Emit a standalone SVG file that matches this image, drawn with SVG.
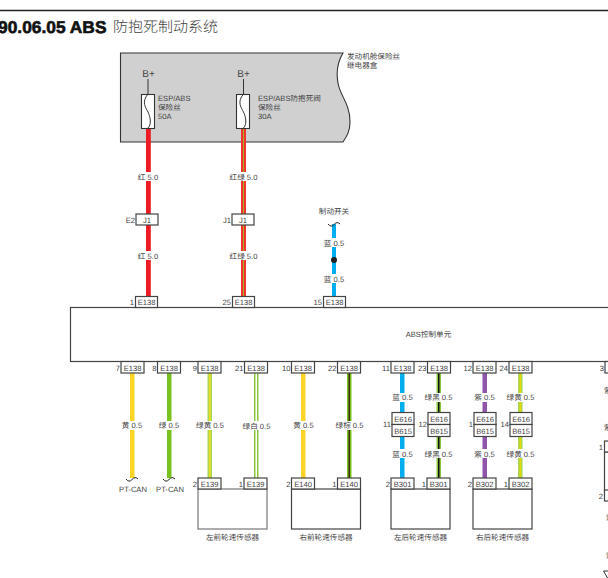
<svg xmlns="http://www.w3.org/2000/svg" width="608" height="578" viewBox="0 0 608 578">
<defs><style>
text{font-family:"Liberation Sans","Noto Sans CJK SC",sans-serif;font-size:7.6px;fill:#444;text-rendering:geometricPrecision}
.m{text-anchor:middle}.e{text-anchor:end}
.c{fill:#fff;stroke:#444;stroke-width:1.2}
.bx{fill:#fff;stroke:#444;stroke-width:1.2}
.l{fill:#fff}
.w{fill:none;stroke:#333;stroke-width:1}
.tilde{fill:none;stroke:#222;stroke-width:1}
</style></defs>
<rect width="608" height="578" fill="#fff"/>
<g id="header">
<line x1="0" y1="10.500" x2="608" y2="10.500" stroke="#222" stroke-width="1.300"/>
<text x="-2" y="32.500" textLength="108.500" lengthAdjust="spacingAndGlyphs" style="font-size:17px;font-weight:bold;fill:#111;stroke:#111;stroke-width:.6">90.06.05 ABS</text>
<text x="113" y="32" style="font-size:15px;font-family:'Noto Sans CJK SC',sans-serif;font-weight:300">防抱死制动系统</text>
</g>
<g id="fusebox">
<path d="M120.500 53H343C337 63 336.500 75 338 83C340 96 350 103 350 122C350 131 347 136 343 142H120.500Z" fill="#d0d0d0" stroke="#333" stroke-width="1.100"/>
<text x="347" y="59">发动机舱保险丝</text>
<text x="347" y="68">继电器盒</text>
</g>
<g id="connectors">
<rect x="146" y="129" width="4.800" height="167" fill="#ed1c24"/>
<rect x="241" y="129" width="5" height="167" fill="#f0342a"/><rect x="243" y="129" width="1" height="167" fill="#a8b030"/>
<rect x="332" y="224" width="4" height="72" fill="#00aeef"/>
<rect x="130" y="373" width="4.500" height="105" fill="#fdd528"/>
<rect x="167" y="373" width="4.500" height="105" fill="#7ac31f"/>
<rect x="207.500" y="373" width="4.500" height="105" fill="#a4d65a"/><rect x="209" y="373" width="1.700" height="105" fill="#ecdc20"/>
<rect x="254" y="373" width="4.500" height="105" fill="#8cc63f"/><rect x="255.500" y="373" width="1.500" height="105" fill="#fff"/>
<rect x="301" y="373" width="4.500" height="105" fill="#fdd528"/>
<rect x="347" y="373" width="4.500" height="105" fill="#7ac31f"/><rect x="348.500" y="373" width="1.500" height="105" fill="#3a2a10"/>
<rect x="400" y="373" width="4.500" height="105" fill="#00aeef"/>
<rect x="436.500" y="373" width="4.500" height="105" fill="#8cc63f"/><rect x="438" y="373" width="1.500" height="105" fill="#111"/>
<rect x="482.500" y="373" width="4.500" height="105" fill="#8e55ab"/>
<rect x="518" y="373" width="4.500" height="105" fill="#a4d65a"/><rect x="519.500" y="373" width="1.700" height="105" fill="#e4d800"/>
<path class="tilde" d="M126 479Q129 483 132 479.500T138 479"/>
<path class="tilde" d="M163 479Q166 483 169 479.500T175 479"/>
<path class="tilde" d="M328 224Q331 228 334 224.500T340 224"/>
<circle cx="334" cy="260" r="3" fill="#222"/>
</g>
<g id="labels">
<g fill="#fff">
<rect x="137" y="172" width="22" height="9" class="l"/><rect x="137" y="251" width="22" height="9" class="l"/>
<rect x="230" y="172" width="28" height="9" class="l"/><rect x="230" y="251" width="28" height="9" class="l"/>
<rect x="324" y="238" width="20" height="9" class="l"/><rect x="324" y="274" width="20" height="9" class="l"/>
<rect x="122" y="421" width="22" height="9" class="l"/><rect x="159" y="421" width="22" height="9" class="l"/><rect x="196" y="421" width="28" height="9" class="l"/><rect x="243" y="421" width="28" height="9" class="l"/><rect x="293" y="421" width="22" height="9" class="l"/><rect x="336" y="421" width="28" height="9" class="l"/>
<rect x="392" y="393" width="22" height="9" class="l"/><rect x="425" y="393" width="28" height="9" class="l"/><rect x="474" y="393" width="22" height="9" class="l"/><rect x="507" y="393" width="28" height="9" class="l"/>
<rect x="392" y="449" width="22" height="9" class="l"/><rect x="425" y="449" width="28" height="9" class="l"/><rect x="474" y="449" width="22" height="9" class="l"/><rect x="507" y="449" width="28" height="9" class="l"/>
</g>
<text class="m" x="148" y="180">红 5.0</text><text class="m" x="148" y="259">红 5.0</text>
<text class="m" x="243.500" y="180">红绿 5.0</text><text class="m" x="243.500" y="259">红绿 5.0</text>
<text class="m" x="334" y="246">蓝 0.5</text><text class="m" x="334" y="281.500">蓝 0.5</text>
<text class="m" x="334" y="214">制动开关</text>
<text class="m" x="132" y="428">黄 0.5</text><text class="m" x="169" y="428">绿 0.5</text><text class="m" x="210" y="428">绿黄 0.5</text><text class="m" x="256.500" y="429">绿白 0.5</text><text class="m" x="303.500" y="428">黄 0.5</text><text class="m" x="349.500" y="428">绿棕 0.5</text>
<text class="m" x="402.500" y="400">蓝 0.5</text><text class="m" x="438.500" y="400">绿黑 0.5</text><text class="m" x="484.500" y="400">紫 0.5</text><text class="m" x="520.500" y="400">绿黄 0.5</text>
<text class="m" x="402.500" y="456.500">蓝 0.5</text><text class="m" x="438.500" y="456.500">绿黑 0.5</text><text class="m" x="484.500" y="456.500">紫 0.5</text><text class="m" x="520.500" y="456.500">绿黄 0.5</text>
<text class="m" x="133" y="492">PT-CAN</text><text class="m" x="170" y="492">PT-CAN</text>
<text x="604" y="393">紫</text><text x="604" y="430">紫</text><text x="606" y="520">紫</text><text x="606" y="558">紫</text>
</g>
<g id="fuse-esp-abs-50a">
<rect x="141.500" y="94.500" width="13" height="34" fill="#fff" stroke="#333" stroke-width="1.100"/>
<path class="w" d="M148 79V94M148 94C141 102 146 108 148 112S152 124 148 128"/>
<text x="158" y="100.500">ESP/ABS</text><text x="158" y="110">保险丝</text><text x="158" y="119">50A</text>
<text class="m" x="148.500" y="76.500" style="font-size:10px">B+</text>
</g>
<g id="fuse-esp-abs-30a">
<rect x="236.500" y="94.500" width="13" height="34" fill="#fff" stroke="#333" stroke-width="1.100"/>
<path class="w" d="M243.500 79V94M243.500 94C236.500 102 241.500 108 243.500 112S247.500 124 243.500 128"/>
<text x="258" y="100.500">ESP/ABS防抱死阀</text><text x="258" y="110">保险丝</text><text x="258" y="119">30A</text>
<text class="m" x="243.500" y="76.500" style="font-size:10px">B+</text>
</g>
<g id="j1-e2"><rect class="c" x="136" y="214" width="22" height="11"/><text class="m" x="147" y="222.500">J1</text><text class="e" x="135" y="222.500">E2</text></g>
<g id="j1-j1"><rect class="c" x="232" y="214" width="22" height="11"/><text class="m" x="243" y="222.500">J1</text><text class="e" x="231" y="222.500">J1</text></g>
<g id="abs-unit"><rect class="bx" x="70.500" y="307.500" width="560" height="54"/><text class="m" x="428.500" y="337">ABS控制单元</text></g>
<g id="e138-top">
<rect class="c" x="135.500" y="296.500" width="22" height="11"/><text class="m" x="146.500" y="305">E138</text><text class="e" x="134" y="305">1</text>
<rect class="c" x="232.500" y="296.500" width="22" height="11"/><text class="m" x="243.500" y="305">E138</text><text class="e" x="231" y="305">25</text>
<rect class="c" x="323.500" y="296.500" width="22" height="11"/><text class="m" x="334.500" y="305">E138</text><text class="e" x="322" y="305">15</text>
</g>
<g id="e138-bottom">
<rect class="c" x="121" y="361.500" width="23" height="11.500"/><text class="m" x="132.500" y="370.500">E138</text><text class="e" x="120" y="370.500">7</text>
<rect class="c" x="157.500" y="361.500" width="23" height="11.500"/><text class="m" x="169" y="370.500">E138</text><text class="e" x="156.500" y="370.500">8</text>
<rect class="c" x="198" y="361.500" width="23" height="11.500"/><text class="m" x="209.500" y="370.500">E138</text><text class="e" x="197" y="370.500">9</text>
<rect class="c" x="244.500" y="361.500" width="23" height="11.500"/><text class="m" x="256" y="370.500">E138</text><text class="e" x="243.500" y="370.500">21</text>
<rect class="c" x="291.500" y="361.500" width="23" height="11.500"/><text class="m" x="303" y="370.500">E138</text><text class="e" x="290.500" y="370.500">10</text>
<rect class="c" x="337.500" y="361.500" width="23" height="11.500"/><text class="m" x="349" y="370.500">E138</text><text class="e" x="336.500" y="370.500">22</text>
<rect class="c" x="391" y="361.500" width="23" height="11.500"/><text class="m" x="402.500" y="370.500">E138</text><text class="e" x="390" y="370.500">11</text>
<rect class="c" x="427.500" y="361.500" width="23" height="11.500"/><text class="m" x="439" y="370.500">E138</text><text class="e" x="426.500" y="370.500">23</text>
<rect class="c" x="473" y="361.500" width="23" height="11.500"/><text class="m" x="484.500" y="370.500">E138</text><text class="e" x="472" y="370.500">12</text>
<rect class="c" x="509" y="361.500" width="23" height="11.500"/><text class="m" x="520.500" y="370.500">E138</text><text class="e" x="508" y="370.500">24</text>
<rect class="c" x="605" y="361.500" width="23" height="11.500"/><text class="e" x="604" y="370.500">3</text>
</g>
<g id="e616-b615">
<rect class="c" x="392" y="412.500" width="22" height="12"/><rect class="c" x="392" y="424.500" width="22" height="12"/><text class="m" x="403" y="421.500">E616</text><text class="m" x="403" y="433.500">B615</text><text class="e" x="391" y="427">11</text>
<rect class="c" x="428" y="412.500" width="22" height="12"/><rect class="c" x="428" y="424.500" width="22" height="12"/><text class="m" x="439" y="421.500">E616</text><text class="m" x="439" y="433.500">B615</text><text class="e" x="427" y="427">12</text>
<rect class="c" x="474" y="412.500" width="22" height="12"/><rect class="c" x="474" y="424.500" width="22" height="12"/><text class="m" x="485" y="421.500">E616</text><text class="m" x="485" y="433.500">B615</text><text class="e" x="473" y="427">1</text>
<rect class="c" x="510" y="412.500" width="22" height="12"/><rect class="c" x="510" y="424.500" width="22" height="12"/><text class="m" x="521" y="421.500">E616</text><text class="m" x="521" y="433.500">B615</text><text class="e" x="509" y="427">14</text>
</g>
<g id="sensor-front-left"><rect class="bx" x="198" y="489" width="69" height="40" style="stroke:#777"/><rect class="c" x="198" y="478" width="23" height="11"/><rect class="c" x="244" y="478" width="23" height="11"/><text class="m" x="209.500" y="487">E139</text><text class="m" x="255.500" y="487">E139</text><text class="e" x="197" y="487">2</text><text class="e" x="243" y="487">1</text><text class="m" x="232.500" y="539.500">左前轮速传感器</text></g>
<g id="sensor-front-right"><rect class="bx" x="291.500" y="489" width="69" height="40"/><rect class="c" x="291.500" y="478" width="23" height="11"/><rect class="c" x="337.500" y="478" width="23" height="11"/><text class="m" x="303" y="487">E140</text><text class="m" x="349" y="487">E140</text><text class="e" x="290.500" y="487">2</text><text class="e" x="336.500" y="487">1</text><text class="m" x="326" y="539.500">右前轮速传感器</text></g>
<g id="sensor-rear-left"><rect class="bx" x="391" y="489" width="59" height="40"/><rect class="c" x="391" y="478" width="23" height="11"/><rect class="c" x="427" y="478" width="23" height="11"/><text class="m" x="402.500" y="487">B301</text><text class="m" x="438.500" y="487">B301</text><text class="e" x="390" y="487">2</text><text class="e" x="426" y="487">1</text><text class="m" x="420.500" y="539.500">左后轮速传感器</text></g>
<g id="sensor-rear-right"><rect class="bx" x="473" y="489" width="59" height="40"/><rect class="c" x="473" y="478" width="23" height="11"/><rect class="c" x="509" y="478" width="23" height="11"/><text class="m" x="484.500" y="487">B302</text><text class="m" x="520.500" y="487">B302</text><text class="e" x="472" y="487">2</text><text class="e" x="508" y="487">1</text><text class="m" x="502.500" y="539.500">右后轮速传感器</text></g>
<g id="clipped-right">
<rect class="bx" x="604.500" y="452" width="30" height="40"/>
<rect class="c" x="604.500" y="441" width="23" height="11"/><text class="e" x="603" y="450">1</text>
<rect class="c" x="604.500" y="490" width="23" height="11"/><text class="e" x="603" y="499">2</text>
<path d="M603.500 571H612L607.500 578Z" fill="none" stroke="#333"/>
</g>
</svg>
